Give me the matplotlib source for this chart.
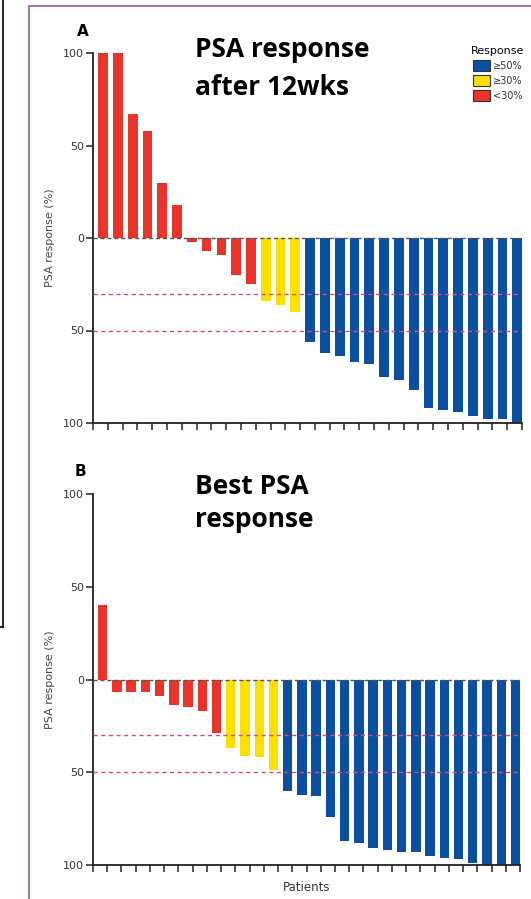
import numpy as np
import matplotlib
matplotlib.use("Agg")
import matplotlib.pyplot as plt
from matplotlib.patches import Patch
from matplotlib.lines import Line2D

# PSA change (%) per patient, sorted as in the waterfall plots
week12_red = [100, 100, 67, 58, 30, 18, -2, -7, -9, -20, -25]
week12_yellow = [-34, -36, -40]
week12_blue = [-56, -62, -64, -67, -68, -75, -77, -82, -92, -93, -94, -96, -98, -98, -100]

best_red = [40, -7, -7, -7, -9, -14, -15, -17, -29]
best_yellow = [-37, -41, -42, -49]
best_blue = [-60, -62, -63, -74, -87, -88, -91, -92, -93, -93, -95, -96, -97, -99, -100, -100, -100]

y_ticks = [100, 50, 0, -50, -100]
thresholds = [-30, -50]
legend_labels = ["\u226550%", "\u226530%", "<30%"]

RED = "#e8342a"
YELLOW = "#fde000"
BLUE = "#0b4f9e"
DASH = "#d2506c"

plt.rcParams['font.family'] = ['DejaVu Sans']

fig = plt.figure(figsize=(5.31, 8.99), dpi=100)


def waterfall(ax, red, yellow, blue):
    vals = red + yellow + blue
    cols = [RED] * len(red) + [YELLOW] * len(yellow) + [BLUE] * len(blue)
    n = len(vals)
    x = np.arange(n) + 0.68
    ax.bar(x, vals, width=0.66, color=cols, zorder=2)
    ax.axhline(0, color="#555555", lw=1.0, ls=(0, (3, 2)), zorder=3)
    for t in thresholds:
        ax.axhline(t, color=DASH, lw=1.0, ls=(0, (3, 2.5)), zorder=3)
    ax.set_xlim(0, n)
    ax.set_ylim(-100, 100)
    ax.set_xticks(np.arange(n + 1))
    ax.set_xticklabels([])
    ax.set_yticks(y_ticks)
    ax.set_yticklabels([str(abs(v)) for v in y_ticks], color="#333333", fontsize=8)
    ax.tick_params(axis="both", direction="out", length=5, width=1.1, color="#222222", pad=1.5)
    for s in ["top", "right"]:
        ax.spines[s].set_visible(False)
    for s in ["left", "bottom"]:
        ax.spines[s].set_linewidth(1.3)
        ax.spines[s].set_color("#222222")
    ax.set_ylabel("PSA response (%)", fontsize=8, color="#444444", labelpad=6)


axA = fig.add_axes([93 / 531, 1 - 423 / 899, 429 / 531, 370 / 899])
waterfall(axA, week12_red, week12_yellow, week12_blue)

axB = fig.add_axes([93 / 531, 1 - 865 / 899, 427 / 531, 371 / 899])
waterfall(axB, best_red, best_yellow, best_blue)
axB.set_xlabel("Patients", fontsize=8.5, color="#333333", labelpad=5)

handles = [Patch(facecolor=c, edgecolor="#333333", lw=0.8) for c in [BLUE, YELLOW, RED]]
leg = axA.legend(handles, legend_labels, title="Response", loc="upper right",
                 bbox_to_anchor=(1.015, 1.03), frameon=False, fontsize=7,
                 title_fontsize=8, handlelength=1.8, handleheight=1.3,
                 handletextpad=0.3, labelspacing=0.45, borderaxespad=0)
for t in leg.get_texts():
    t.set_color("#333333")

fig.text(77 / 531, 1 - 31 / 899, "A", fontsize=11, fontweight="bold", ha="left", va="center")
fig.text(75 / 531, 1 - 471 / 899, "B", fontsize=11, fontweight="bold", ha="left", va="center")

title_kw = dict(fontsize=19, fontweight="bold", family="Open Sans", ha="left", va="baseline")
fig.text(195 / 531, 1 - 57 / 899, "PSA response", **title_kw)
fig.text(195 / 531, 1 - 95 / 899, "after 12wks", **title_kw)
fig.text(195 / 531, 1 - 494 / 899, "Best PSA", **title_kw)
fig.text(195 / 531, 1 - 527 / 899, "response", **title_kw)

# frame around the panel and the edge of the neighbouring figure
frame = "#9a6a9a"
fig.add_artist(Line2D([29 / 531, 29 / 531], [0, 1 - 6 / 899], color=frame, lw=1.3))
fig.add_artist(Line2D([29 / 531, 1], [1 - 6 / 899, 1 - 6 / 899], color=frame, lw=1.3))
fig.add_artist(Line2D([3 / 531, 3 / 531], [1 - 627 / 899, 1], color="black", lw=1.2))
fig.add_artist(Line2D([0, 3 / 531], [1 - 627 / 899, 1 - 627 / 899], color="black", lw=1.2))

fig.savefig("out.png", dpi=100)
